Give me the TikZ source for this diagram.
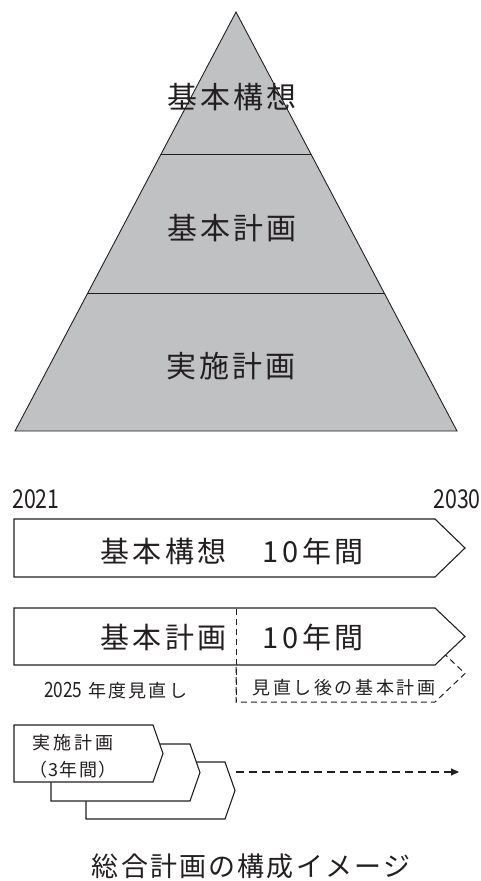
\documentclass[tikz,border=0pt]{standalone}
\usepackage{fontspec}
\usetikzlibrary{arrows.meta}
\newfontfamily\jp{Noto Sans CJK JP}
\newfontfamily\jpn[FakeStretch=0.82]{Noto Sans CJK JP}
\definecolor{pyr}{HTML}{C0C1C3}
\definecolor{ink}{HTML}{231F20}
\tikzset{
  lbl/.style={inner sep=0pt, text=ink, font=\jp},
  pyrline/.style={draw=ink, line width=0.9pt},
  boxline/.style={draw=ink, line width=1.1pt, fill=white, line join=miter},
  dashline/.style={draw=ink, line width=1pt, dash pattern=on 6pt off 4pt},
}
\newcommand{\LS}[2]{{\addfontfeature{LetterSpace=#1}#2}}
\begin{document}
\begin{tikzpicture}[x=1pt,y=-1pt]
\useasboundingbox (0,0) rectangle (481,881);
% pyramid
\coordinate (apex) at (236,12);
\coordinate (bl) at (15,431);
\coordinate (br) at (457,431);
\filldraw[pyrline, fill=pyr] (apex) -- (br) -- (bl) -- cycle;
\coordinate (d1l) at (161.1,154); \coordinate (d1r) at (310.9,154);
\coordinate (d2l) at (87.8,293); \coordinate (d2r) at (384.2,293);
\draw[pyrline] (d1l) -- (d1r);
\draw[pyrline] (d2l) -- (d2r);
\node[lbl, font=\jp\fontsize{30}{30}\selectfont] (p1) at (232,97) {\LS{10}{基本構想}};
\node[lbl, font=\jp\fontsize{30}{30}\selectfont] (p2) at (232,228) {\LS{10}{基本計画}};
\node[lbl, font=\jp\fontsize{30}{30}\selectfont] (p3) at (231,366) {\LS{10}{実施計画}};
% years
\node[lbl, font=\jpn\fontsize{26}{26}\selectfont, anchor=west] (y1) at (12,499) {2021};
\node[lbl, font=\jpn\fontsize{26}{26}\selectfont, anchor=east] (y2) at (481,499) {2030};
% box 1
\filldraw[boxline] (14,519) -- (435,519) -- (465,548) -- (435,577) -- (14,577) -- cycle;
\node[lbl, font=\jp\fontsize{29}{29}\selectfont] (b1) at (232,551) {\LS{12}{基本構想　10年間}};
% dashed shape behind box 2
\draw[dashline] (236,645) -- (435,645) -- (465,673.5) -- (435,702) -- (236,702) -- cycle;
% box 2
\filldraw[boxline] (14,608) -- (435,608) -- (465,636.5) -- (435,665) -- (14,665) -- cycle;
\node[lbl, font=\jp\fontsize{29}{29}\selectfont] (b2) at (232,637) {\LS{12}{基本計画　10年間}};
\draw[dashline] (236,609) -- (236,702);
\node[lbl, font=\jp\fontsize{18}{18}\selectfont] (rev) at (344,688) {\LS{14}{見直し後の基本計画}};
\node[lbl, anchor=west] (yr) at (44,691) {{\jpn\fontsize{21}{21}\selectfont 2025}\hspace{6pt}{\jp\fontsize{18}{18}\selectfont\LS{12}{年度見直し}}};
% implementation plans
\filldraw[boxline] (86,762) -- (225,762) -- (235,790.5) -- (225,819) -- (86,819) -- cycle;
\filldraw[boxline] (51,744) -- (190,744) -- (200,772.5) -- (190,801) -- (51,801) -- cycle;
\filldraw[boxline] (14,725) -- (153,725) -- (163,753.5) -- (153,782) -- (14,782) -- cycle;
\node[lbl, font=\jp\fontsize{18}{18}\selectfont] (i1) at (73,743) {\LS{16}{実施計画}};
\node[lbl, font=\jp\fontsize{18}{18}\selectfont] (i2) at (73,770) {\LS{8}{（3年間）}};
\coordinate (arrS) at (236,772);
\coordinate (arrE) at (459,772);
\draw[ink, line width=1.1pt, dash pattern=on 8pt off 5pt, -{Triangle[length=8pt,width=7pt]}] (arrS) -- (arrE);
% title
\node[lbl, font=\jp\fontsize{27}{27}\selectfont] (title) at (251,866) {\LS{8}{総合計画の構成イメージ}};
\end{tikzpicture}
\end{document}
